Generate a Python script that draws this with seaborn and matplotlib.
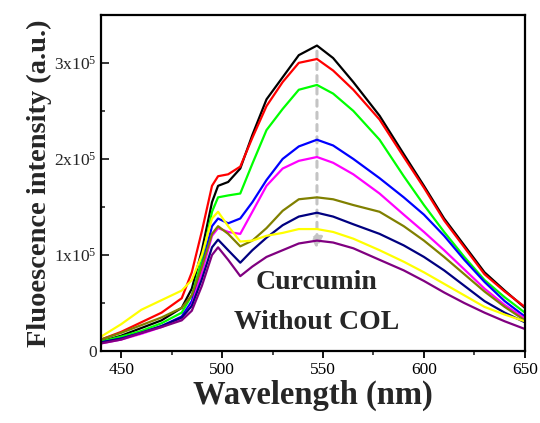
import numpy as np
import pandas as pd
import matplotlib
matplotlib.use("Agg")
import matplotlib.pyplot as plt
import seaborn as sns

wavelength = [440, 450, 460, 470, 480, 485, 490, 495, 498, 503, 509, 515, 522, 530,
              538, 547, 555, 565, 578, 590, 600, 610, 620, 630, 640, 650]

s_black = [0.10, 0.16, 0.24, 0.32, 0.45, 0.65, 1.05, 1.55, 1.72, 1.76, 1.90, 2.25, 2.62, 2.85,
           3.08, 3.18, 3.05, 2.80, 2.45, 2.05, 1.72, 1.38, 1.10, 0.82, 0.63, 0.45]
s_red = [0.12, 0.20, 0.30, 0.40, 0.55, 0.82, 1.25, 1.72, 1.82, 1.84, 1.92, 2.22, 2.55, 2.80,
         3.00, 3.04, 2.92, 2.72, 2.41, 2.02, 1.70, 1.36, 1.08, 0.80, 0.62, 0.46]
s_green = [0.10, 0.15, 0.21, 0.29, 0.40, 0.58, 0.95, 1.45, 1.60, 1.62, 1.64, 1.95, 2.30, 2.52,
           2.72, 2.77, 2.68, 2.50, 2.20, 1.82, 1.52, 1.24, 0.98, 0.74, 0.56, 0.40]
s_blue = [0.09, 0.13, 0.19, 0.26, 0.36, 0.52, 0.88, 1.30, 1.38, 1.33, 1.38, 1.55, 1.78, 2.00,
          2.13, 2.20, 2.14, 2.00, 1.80, 1.60, 1.42, 1.20, 0.95, 0.72, 0.52, 0.36]
s_magenta = [0.08, 0.12, 0.18, 0.25, 0.34, 0.48, 0.82, 1.20, 1.28, 1.24, 1.22, 1.45, 1.72, 1.90,
             1.98, 2.02, 1.96, 1.84, 1.64, 1.42, 1.24, 1.05, 0.85, 0.65, 0.48, 0.34]
s_olive = [0.12, 0.19, 0.27, 0.35, 0.45, 0.58, 0.88, 1.22, 1.30, 1.22, 1.09, 1.15, 1.28, 1.46,
           1.58, 1.60, 1.58, 1.52, 1.45, 1.30, 1.15, 0.98, 0.80, 0.62, 0.46, 0.32]
s_navy = [0.09, 0.13, 0.19, 0.26, 0.35, 0.47, 0.75, 1.08, 1.16, 1.05, 0.92, 1.05, 1.18, 1.31,
          1.40, 1.44, 1.40, 1.32, 1.22, 1.10, 0.98, 0.84, 0.68, 0.52, 0.40, 0.30]
s_yellow = [0.15, 0.28, 0.43, 0.53, 0.63, 0.74, 1.00, 1.38, 1.45, 1.30, 1.14, 1.15, 1.20, 1.23,
            1.27, 1.27, 1.24, 1.17, 1.05, 0.93, 0.82, 0.70, 0.58, 0.46, 0.38, 0.31]
s_purple = [0.08, 0.12, 0.19, 0.25, 0.32, 0.42, 0.68, 1.00, 1.08, 0.95, 0.78, 0.88, 0.98, 1.05,
            1.12, 1.15, 1.13, 1.07, 0.95, 0.84, 0.73, 0.61, 0.50, 0.40, 0.31, 0.23]

series_names = ["black", "red", "green", "blue", "magenta", "olive", "navy", "yellow", "purple"]
series_values = [s_black, s_red, s_green, s_blue, s_magenta, s_olive, s_navy, s_yellow, s_purple]
series_colors = ["#000000", "#FF0000", "#00FF00", "#0000FF", "#FF00FF",
                 "#808000", "#000080", "#FFFF00", "#800080"]

xticks = [450, 500, 550, 600, 650]
yticks = [0, 1e5, 2e5, 3e5]
ytick_labels = ["0", "1x10$^{5}$", "2x10$^{5}$", "3x10$^{5}$"]

rows = []
for name, vals in zip(series_names, series_values):
    for w, v in zip(wavelength, vals):
        rows.append({"wl": w, "I": v * 1e5, "s": name})
df = pd.DataFrame(rows)

sns.set_theme(style="white")
plt.rcParams["font.family"] = ["Liberation Serif", "DejaVu Serif"]
plt.rcParams["mathtext.fontset"] = "custom"
plt.rcParams["mathtext.rm"] = "Liberation Serif"
plt.rcParams["mathtext.default"] = "rm"

fig = plt.figure(figsize=(5.4, 4.23), dpi=100)
ax = fig.add_axes([0.187, 0.170, 0.785, 0.795])

sns.lineplot(data=df, x="wl", y="I", hue="s", hue_order=series_names,
             palette=dict(zip(series_names, series_colors)), linewidth=1.6,
             legend=False, ax=ax, sort=True, estimator=None)

ax.set_xlim(440, 650)
ax.set_ylim(0, 3.5e5)
ax.set_xticks(xticks)
ax.set_xticklabels([str(t) for t in xticks])
ax.set_xticks([475, 525, 575, 625], minor=True)
ax.set_yticks(yticks)
ax.set_yticklabels(ytick_labels)
ax.set_yticks([0.5e5, 1.5e5, 2.5e5], minor=True)

ax.tick_params(axis="x", which="major", direction="out", length=5, width=1.3,
               labelsize=12.5, bottom=True, pad=3, colors="black")
ax.tick_params(axis="x", which="minor", direction="out", length=3, width=1.2, bottom=True)
ax.tick_params(axis="y", which="major", direction="in", length=6, width=1.3,
               labelsize=12.5, left=True, pad=3)
ax.tick_params(axis="y", which="minor", direction="in", length=3, width=1.2, left=True)
for sp in ax.spines.values():
    sp.set_linewidth(1.6)
    sp.set_color("black")

ax.set_xlabel("Wavelength (nm)", fontsize=23.5, fontweight="bold", labelpad=1)
ax.set_ylabel("Fluoescence intensity (a.u.)", fontsize=20.5, fontweight="bold", labelpad=2)

ax.annotate("", xy=(547, 1.02e5), xytext=(547, 3.15e5),
            arrowprops=dict(arrowstyle="-|>,head_width=0.25,head_length=0.6",
                            color="#C4C4C4", lw=2.2, linestyle=(0, (2, 2))),
            zorder=1)

ax.text(547, 0.71e5, "Curcumin", ha="center", va="center", fontsize=20, fontweight="bold")
ax.text(547, 0.30e5, "Without COL", ha="center", va="center", fontsize=20, fontweight="bold")

fig.savefig("out.png", dpi=100)
